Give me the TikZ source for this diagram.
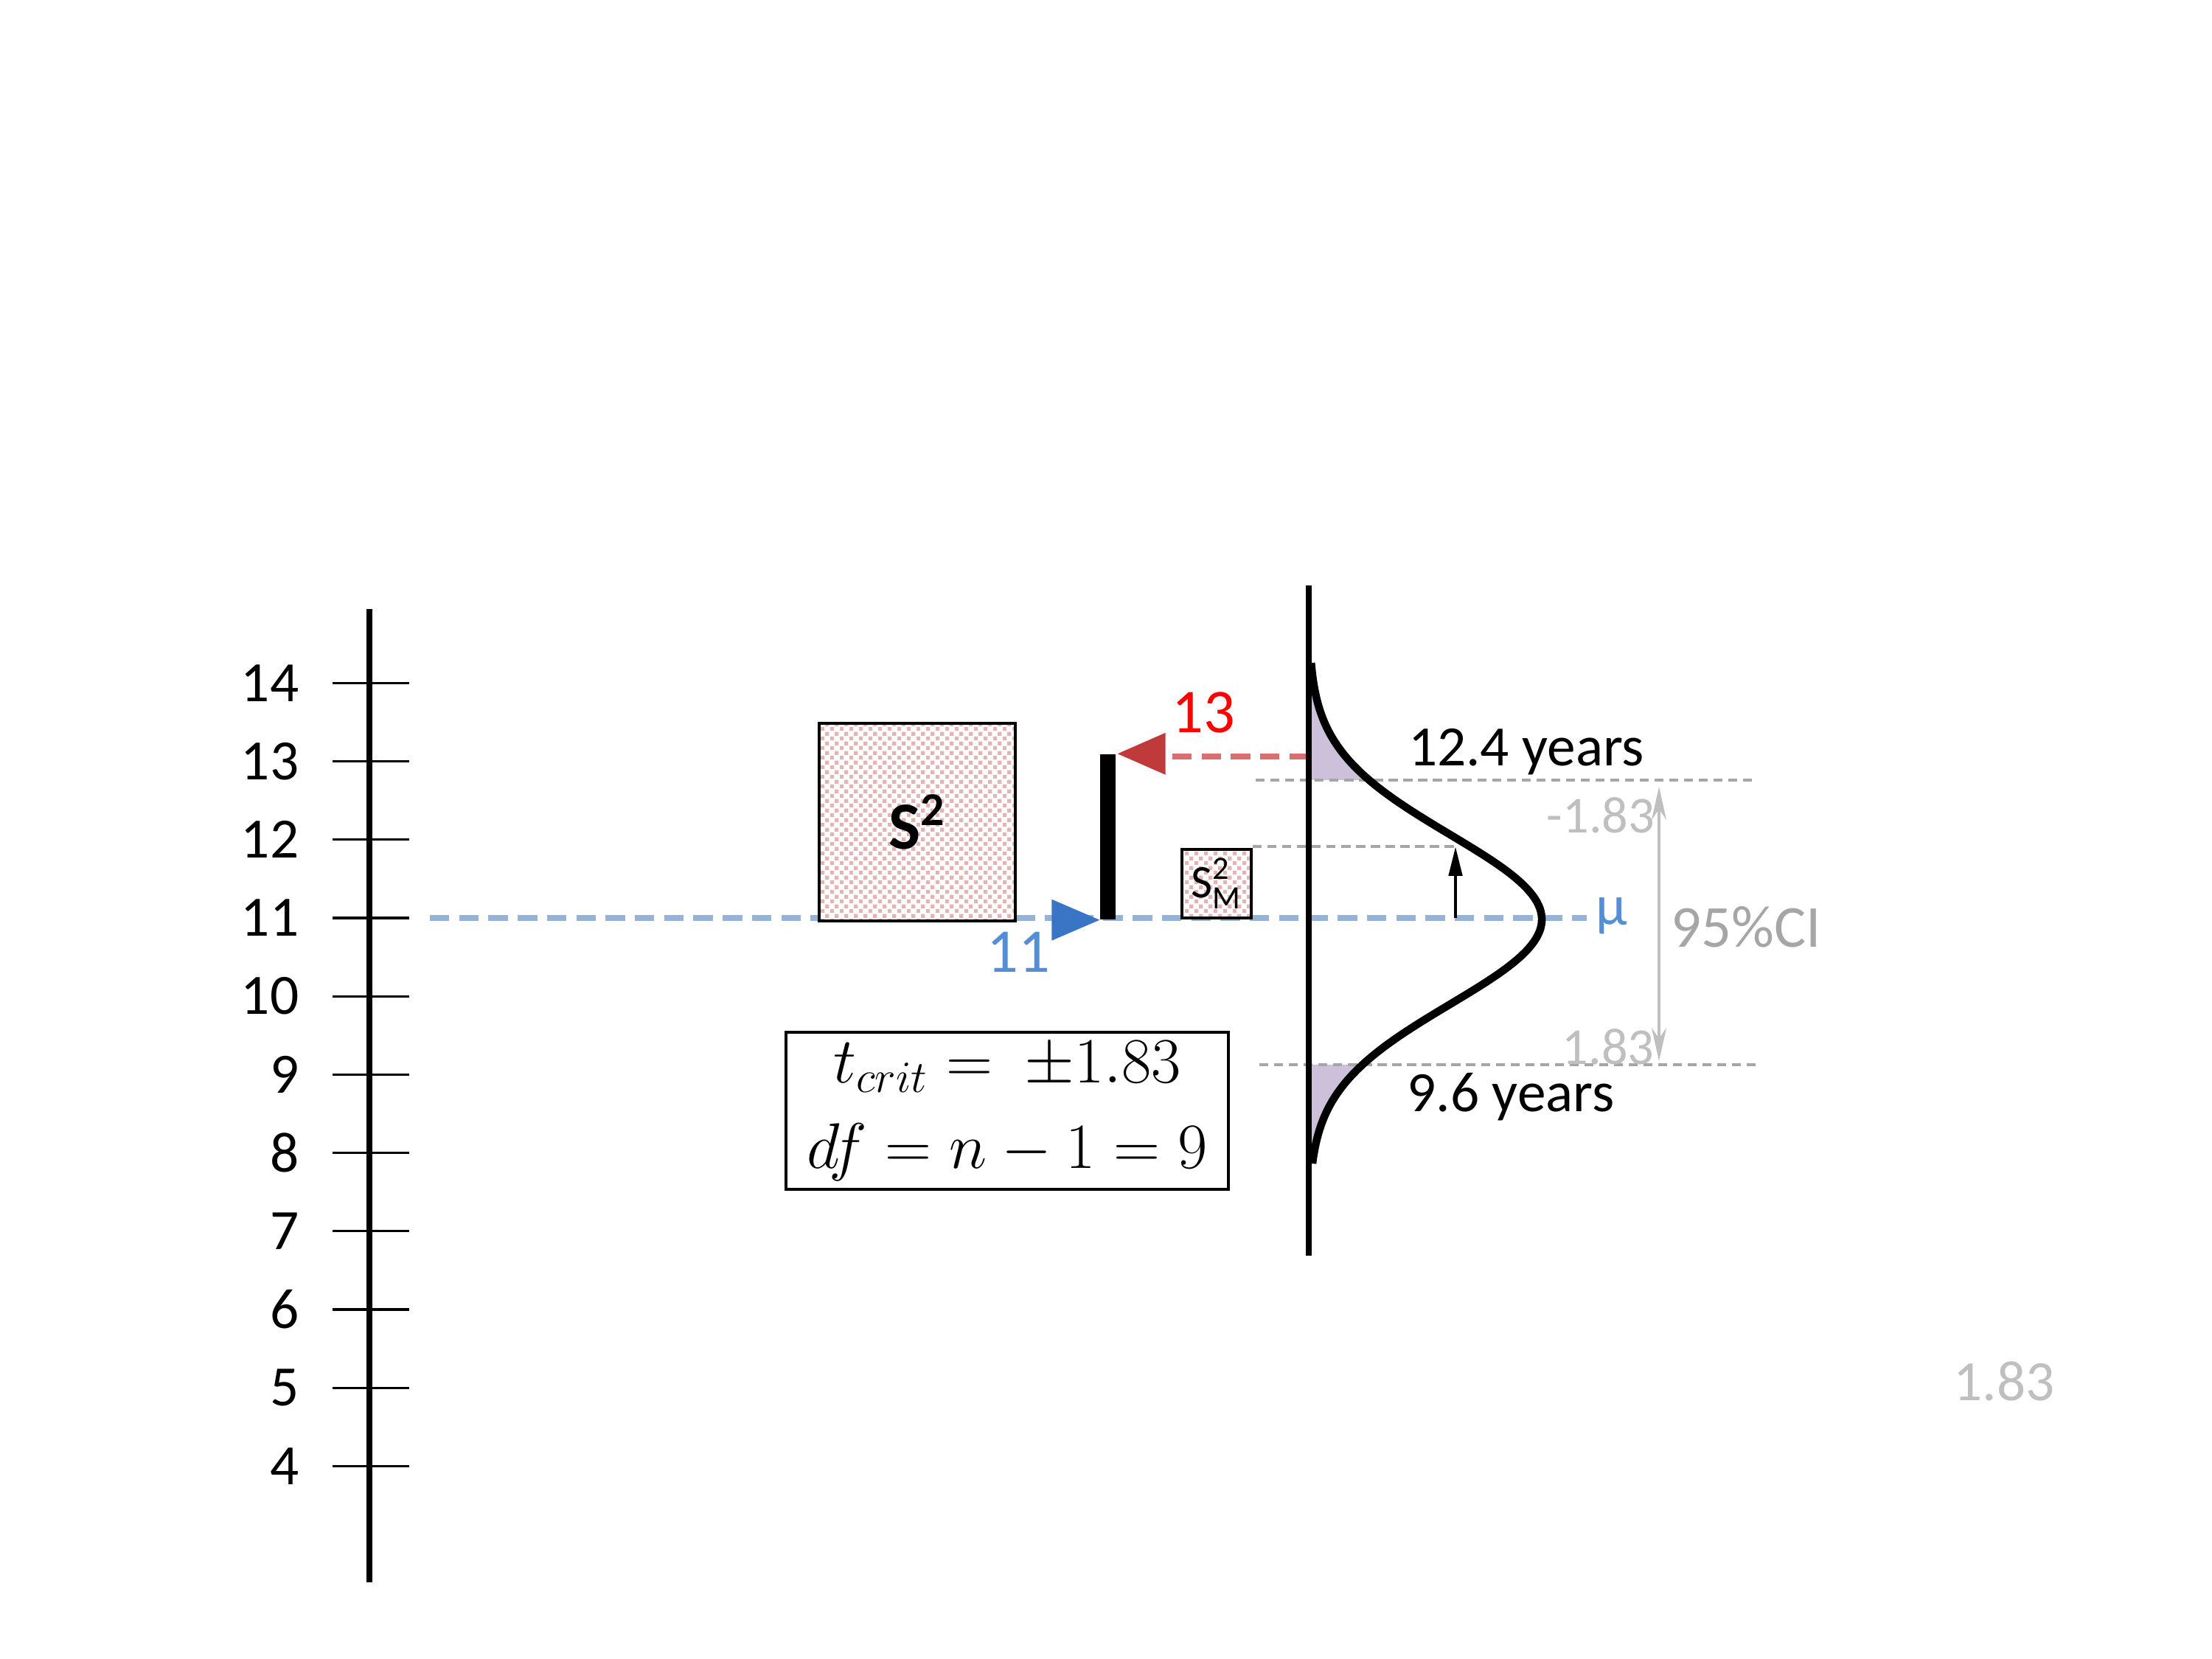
\documentclass[tikz,border=0pt]{standalone}
\usepackage{amsmath}
\usepackage{fontspec}
\setmainfont{Carlito}
\usepackage{tikz}
\usetikzlibrary{arrows.meta, patterns.meta}

\definecolor{meanblue}{RGB}{149,179,215}
\definecolor{labblue}{RGB}{85,142,213}
\definecolor{triblue}{RGB}{58,116,196}
\definecolor{trired}{RGB}{192,57,59}
\definecolor{critred}{RGB}{218,110,110}
\definecolor{tailfill}{RGB}{204,192,218}
\definecolor{lightgray}{RGB}{191,191,191}
\definecolor{midgray}{RGB}{166,166,166}
\definecolor{dotpink}{RGB}{228,180,180}

\tikzdeclarepattern{
  name=pinkdots,
  type=uncolored,
  bottom left={(0pt,0pt)},
  top right={(3.6pt,3.6pt)},
  tile size={(3.6pt,3.6pt)},
  code={
    \fill (0pt,0pt) rectangle (1.5pt,1.5pt);
    \fill (1.8pt,1.8pt) rectangle (3.3pt,3.3pt);
  }
}

\begin{document}
\begin{tikzpicture}[
    x=1cm, y=1cm,
    tick/.style={line width=0.9pt},
    ticklab/.style={anchor=east, inner sep=0pt, font=\fontsize{22}{26}\selectfont},
    txt/.style={inner sep=0pt, font=\fontsize{22}{26}\selectfont},
    graylab/.style={inner sep=0pt, text=lightgray, font=\fontsize{20}{24}\selectfont},
    varbox/.style={rectangle, draw=black, line width=1.3pt, inner sep=0pt, preaction={fill=white}, pattern=pinkdots, pattern color=dotpink},
    critbox/.style={rectangle, draw=black, line width=1.2pt, align=center, minimum width=6cm, minimum height=2.09cm, font=\fontsize{24}{33}\selectfont},
    meanline/.style={meanblue, line width=2.4pt, dash pattern=on 7.5pt off 3.8pt},
    critline/.style={critred, line width=2.4pt, dash pattern=on 7.5pt off 3.8pt},
    guide/.style={midgray, line width=0.9pt, dash pattern=on 3.5pt off 2.2pt},
    ciarrow/.style={{Stealth[length=0.45cm, width=0.2cm]}-{Stealth[length=0.45cm, width=0.2cm]}, lightgray, line width=1pt},
    shiftarrow/.style={-{Triangle[length=0.4cm, width=0.18cm]}, line width=1.4pt}
]
\useasboundingbox (0,0) rectangle (30,22.5);

% scale of years
\draw[line width=2pt] (5.01,14.24) -- (5.01,1.04);
\foreach \v in {4,...,14}{
  \draw[tick] (4.51,{10.05+(\v-11)*1.062}) -- (5.55,{10.05+(\v-11)*1.062});
  \node[ticklab] (lab\v) at (4.06,{10.05+(\v-11)*1.062}) {\v};
}

% shaded tails of the sampling distribution
\fill[tailfill] (17.75,11.92)
  -- plot[domain=11.92:13.51, samples=60, variable=\t] ({17.75+3.16*exp(-(\t-10.03)*(\t-10.03)/2.645)}, \t)
  -- (17.75,13.62) -- cycle;
\fill[tailfill] (17.75,8.06)
  -- plot[domain=8.06:6.72, samples=60, variable=\t] ({17.75+3.16*exp(-(\t-10.03)*(\t-10.03)/2.645)}, \t)
  -- (17.75,6.55) -- cycle;

% guide lines
\draw[guide] (17.03,11.92) -- (23.82,11.92);
\draw[guide] (16.99,11.02) -- (19.74,11.02);
\draw[guide] (17.08,8.06) -- (23.86,8.06);

% mean line
\coordinate (meanstart) at (5.83,10.05);
\node[inner sep=0pt, anchor=west, text=labblue, font=\fontsize{22}{26}\selectfont] (mu) at (21.64,10.08) {µ};
\draw[meanline] (meanstart) -- ([xshift=-0.12cm]meanstart -| mu.west);

% sample variance boxes
\node[varbox, minimum width=2.66cm, minimum height=2.68cm] (s2) at (12.44,11.35) {};
\node[font=\bfseries\fontsize{26}{30}\selectfont] at (s2.center) {S\textsuperscript{2}};
\node[varbox, minimum width=0.94cm, minimum height=0.93cm] (sm2) at (16.50,10.515) {};
\node[inner sep=0pt, font=\fontsize{18}{21}\selectfont] at (sm2.center) {\(\text{S}^{\text{2}}_{\text{M}}\)};

% interval bar and its ends
\node[rectangle, fill=black, inner sep=0pt, minimum width=0.21cm, minimum height=2.24cm] (bar) at (15.025,11.15) {};
\fill[triblue] (bar.south west) -- ++(-0.65,0.28) -- ++(0,-0.56) -- cycle;
\coordinate (redtip) at ([xshift=0.02cm]bar.north east);
\fill[trired] (redtip) -- ++(0.65,0.285) -- ++(0,-0.57) -- cycle;
\coordinate (redbase) at ([xshift=0.65cm]redtip);
\coordinate (redend) at (17.75,12.24);
\draw[critline] (redend) -- (redend -| redbase);
\node[txt, text=red, font=\fontsize{24}{28}\selectfont] (hi) at (16.32,12.84) {13};
\node[txt, text=labblue, font=\fontsize{24}{28}\selectfont] (lo) at (13.81,9.59) {11};

% sampling distribution
\coordinate (dtop) at (17.75,14.56);
\coordinate (dbot) at (17.75,5.47);
\draw[line width=2.2pt] (dtop) -- (dbot);
\draw[line width=3pt] plot[domain=6.72:13.51, samples=150, variable=\t] ({17.75+3.16*exp(-(\t-10.03)*(\t-10.03)/2.645)}, \t);

% shift of the mean
\coordinate (shiftfrom) at (19.74,10.05);
\coordinate (shiftto) at (19.74,11.02);
\draw[shiftarrow] (shiftfrom) -- (shiftto);

% confidence interval
\coordinate (citop) at (22.50,11.83);
\coordinate (cibot) at (22.50,8.11);
\draw[ciarrow] (cibot) -- (citop);
\node[graylab] (tneg) at (21.71,11.44) {-1.83};
\node[graylab] (tpos) at (21.81,8.30) {1.83};
\node[txt, text=midgray, font=\fontsize{23}{27}\selectfont] (ci) at (23.68,9.93) {95\%CI};
\node[txt] (upper) at (20.70,12.30) {12.4 years};
\node[txt] (lower) at (20.49,7.62) {9.6 years};
\node[txt, text=lightgray] (tval) at (27.18,3.77) {1.83};

% critical value
\node[critbox] (crit) at (13.66,7.435) {$t_{crit} = \ \pm1.83$\\$df = n-1 = 9$};

\end{tikzpicture}
\end{document}
